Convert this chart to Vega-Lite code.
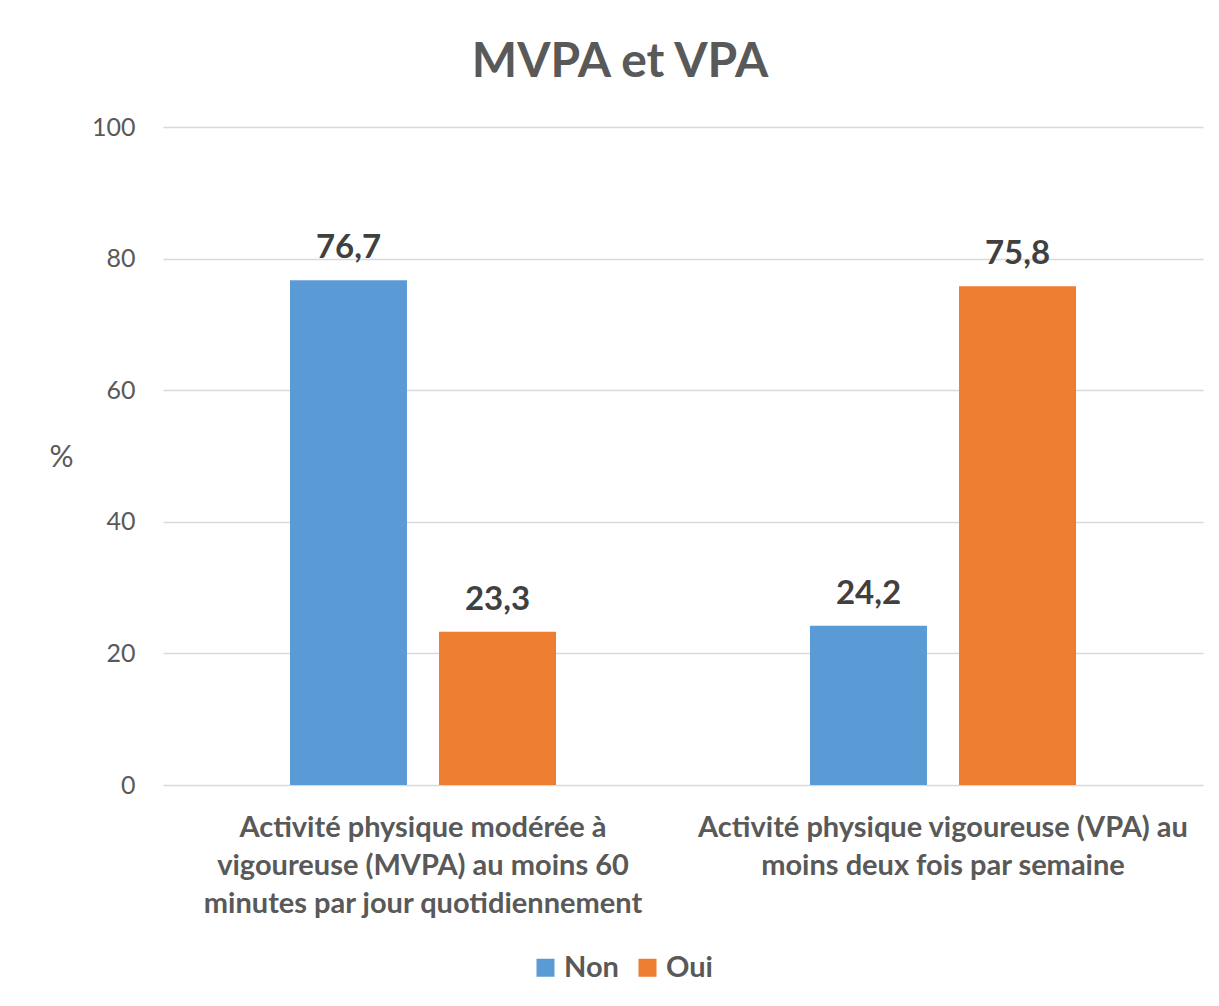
{
  "$schema": "https://vega.github.io/schema/vega-lite/v6.json",
  "width": 1040,
  "height": 658,
  "autosize": {"type": "none"},
  "padding": {"left": 163, "top": 127, "right": 16, "bottom": 221},
  "background": "white",
  "config": {
    "font": "Lato",
    "view": {"stroke": null},
    "locale": {"number": {"decimal": ",", "thousands": " ", "grouping": [3], "currency": ["", " €"]}}
  },
  "title": {
    "text": "MVPA et VPA",
    "fontSize": 48,
    "fontWeight": "bold",
    "color": "#595959",
    "anchor": "middle",
    "dx": -63,
    "offset": 28
  },
  "data": {
    "values": [
      {"categorie": "Activité physique modérée à vigoureuse (MVPA) au moins 60 minutes par jour quotidiennement", "reponse": "Non", "pct": 76.7},
      {"categorie": "Activité physique modérée à vigoureuse (MVPA) au moins 60 minutes par jour quotidiennement", "reponse": "Oui", "pct": 23.3},
      {"categorie": "Activité physique vigoureuse (VPA) au moins deux fois par semaine", "reponse": "Non", "pct": 24.2},
      {"categorie": "Activité physique vigoureuse (VPA) au moins deux fois par semaine", "reponse": "Oui", "pct": 75.8}
    ]
  },
  "encoding": {
    "x": {
      "field": "categorie",
      "type": "nominal",
      "sort": null,
      "scale": {"paddingInner": 0, "paddingOuter": 0},
      "axis": {
        "title": null,
        "labelAngle": 0,
        "domain": false,
        "ticks": false,
        "labelFontSize": 29,
        "labelFontWeight": "bold",
        "labelColor": "#595959",
        "labelPadding": 28,
        "labelLineHeight": 38,
        "labelLimit": 0,
        "labelExpr": "indexof(datum.value, 'MVPA') >= 0 ? ['Activité physique modérée à', 'vigoureuse (MVPA) au moins 60', 'minutes par jour quotidiennement'] : ['Activité physique vigoureuse (VPA) au', 'moins deux fois par semaine']"
      }
    },
    "xOffset": {
      "field": "reponse",
      "type": "nominal",
      "scale": {"paddingInner": 0.215, "paddingOuter": 0.852}
    },
    "y": {
      "field": "pct",
      "type": "quantitative",
      "scale": {"domain": [0, 100]},
      "axis": {
        "title": "%",
        "titleAngle": 0,
        "titleFontSize": 30,
        "titleFontWeight": "normal",
        "titleColor": "#595959",
        "titleX": -102,
        "titleY": 345,
        "titleAlign": "center",
        "values": [0, 20, 40, 60, 80, 100],
        "labelOverlap": false,
        "domain": false,
        "ticks": false,
        "labelFontSize": 25,
        "labelColor": "#595959",
        "labelPadding": 28,
        "gridColor": "#d9d9d9",
        "gridWidth": 1.5
      }
    }
  },
  "layer": [
    {
      "mark": {"type": "bar"},
      "encoding": {
        "color": {
          "field": "reponse",
          "type": "nominal",
          "scale": {"domain": ["Non", "Oui"], "range": ["#5B9BD5", "#ED7D31"]},
          "legend": {
            "title": null,
            "orient": "none",
            "direction": "horizontal",
            "legendX": 368,
            "legendY": 826,
            "symbolType": "square",
            "symbolSize": 324,
            "symbolStrokeWidth": 0,
            "labelFontSize": 29,
            "labelFontWeight": "bold",
            "labelColor": "#595959",
            "columnPadding": 14,
            "labelOffset": 4
          }
        }
      }
    },
    {
      "mark": {"type": "text", "dy": -22, "fontSize": 33, "fontWeight": "bold", "color": "#404040", "baseline": "alphabetic"},
      "encoding": {
        "text": {"field": "pct", "type": "quantitative", "format": ".1f"}
      }
    }
  ]
}
